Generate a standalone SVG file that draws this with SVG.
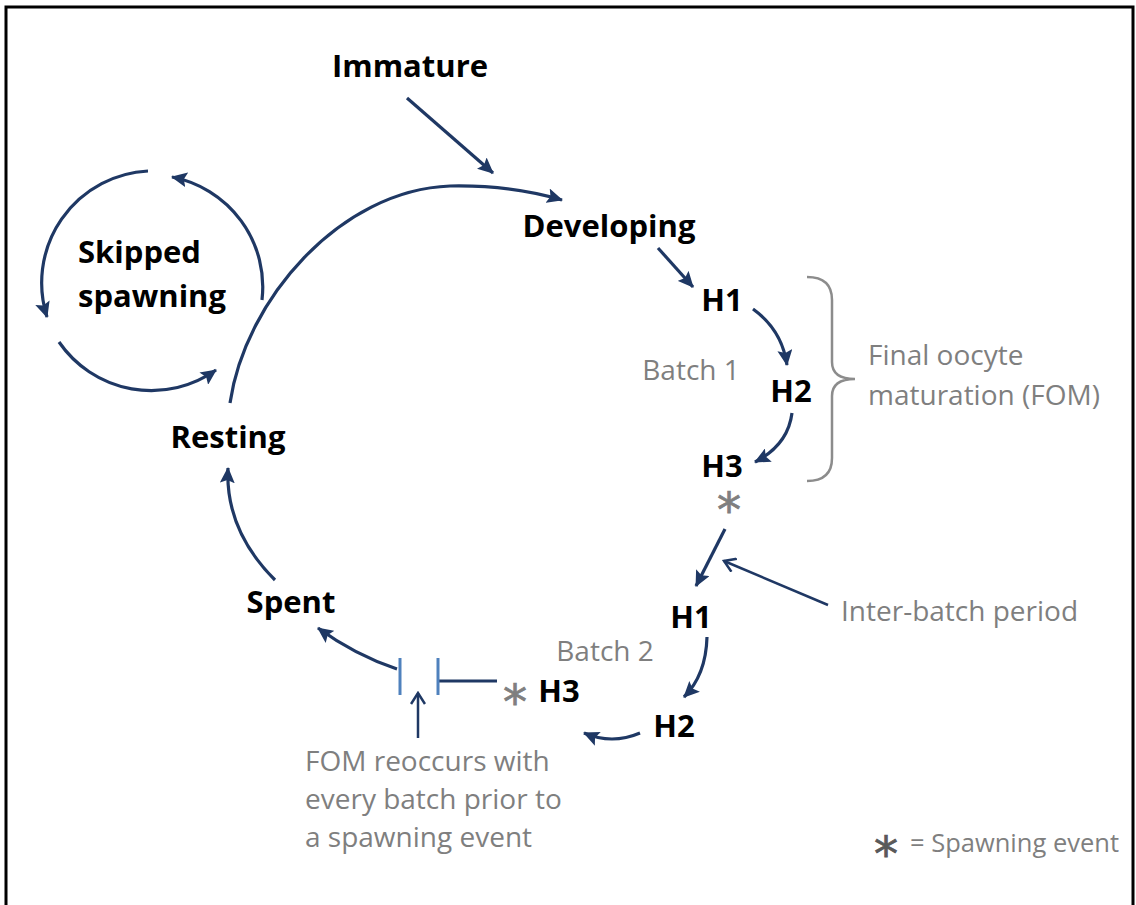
<svg xmlns="http://www.w3.org/2000/svg" width="1136" height="905" viewBox="0 0 1136 905">
<style>
.lbl{font-family:"Open Sans","Liberation Sans",sans-serif;font-weight:bold;font-size:31px;fill:#000}
.note{font-family:"Open Sans","Liberation Sans",sans-serif;font-size:28px;fill:#7f7f7f}
.ast{font-family:"DejaVu Sans",sans-serif;font-size:48px;fill:#7f7f7f;stroke:#7f7f7f;stroke-width:0.8}
.arr{fill:none;stroke:#1f3864;stroke-width:3.2;marker-end:url(#ah)}
.thin{fill:none;stroke:#1f3864;stroke-width:2.5;marker-end:url(#oh)}
.bar{stroke:#4f81bd;stroke-width:3}
</style>
<defs>
<marker id="ah" markerUnits="userSpaceOnUse" markerWidth="17" markerHeight="15" refX="15" refY="7.5" orient="auto">
<path d="M0,0 L16,7.5 L0,15 L3,7.5 z" fill="#1f3864"/>
</marker>
<marker id="oh" markerUnits="userSpaceOnUse" markerWidth="14" markerHeight="16" refX="12" refY="8" orient="auto">
<path d="M1,1 L12,8 L1,15" fill="none" stroke="#1f3864" stroke-width="2.5"/>
</marker>
</defs>
<rect width="1136" height="905" fill="#fff"/>
<path d="M6,906 L6,7 L1133,7 L1133,906" fill="none" stroke="#000" stroke-width="3"/>

<g id="connectors">
<path class="arr" d="M407,98 L493,173"/>
<path class="arr" d="M230,403 C245,300 340,190 450,186 C500,185 535,192 562,200"/>
<path class="arr" d="M658,248 L693,287"/>
<path class="arr" d="M753,309 Q782,330 787,365"/>
<path class="arr" d="M792,413 Q788,445 755,462"/>
<path class="arr" d="M725,529 L696,586"/>
<path class="arr" d="M707,637 Q706,675 684,697"/>
<path class="arr" d="M640,733 Q612,745 584,733"/>
<path class="arr" d="M397,669 Q355,655 318,628"/>
<path class="arr" d="M275,580 Q225,530 228,468"/>
<path class="arr" d="M148,171 A112,112 0 0 0 47,317"/>
<path class="arr" d="M59,342 A112,112 0 0 0 216,370"/>
<path class="arr" d="M262,300 A112,112 0 0 0 172,177"/>
<path class="thin" d="M828,605 L724,561"/>
<path class="thin" d="M418,738 L418,693"/>
<path d="M497,681 L438,681" fill="none" stroke="#1f3864" stroke-width="3"/>
<line class="bar" x1="438" y1="658" x2="438" y2="695"/>
<line class="bar" x1="400" y1="658" x2="400" y2="695"/>
<path d="M807,277 Q832,277 832,300 L832,362 Q832,379 855,379 Q832,379 832,396 L832,458 Q832,481 807,481" fill="none" stroke="#8c8c8c" stroke-width="2.5"/>
</g>

<g id="immature"><text class="lbl" x="410" y="77" text-anchor="middle">Immature</text></g>
<g id="developing"><text class="lbl" x="609" y="237" text-anchor="middle">Developing</text></g>
<g id="b1h1"><text class="lbl" x="722" y="311" text-anchor="middle">H1</text></g>
<g id="b1h2"><text class="lbl" x="791" y="402" text-anchor="middle">H2</text></g>
<g id="b1h3"><text class="lbl" x="722" y="477" text-anchor="middle">H3</text></g>
<g id="b2h1"><text class="lbl" x="691" y="628" text-anchor="middle">H1</text></g>
<g id="b2h2"><text class="lbl" x="674" y="737" text-anchor="middle">H2</text></g>
<g id="b2h3"><text class="lbl" x="559" y="702" text-anchor="middle">H3</text></g>
<g id="spent"><text class="lbl" x="291" y="613" text-anchor="middle">Spent</text></g>
<g id="resting"><text class="lbl" x="228" y="448" text-anchor="middle">Resting</text></g>
<g id="skipped"><text class="lbl" x="78" y="263">Skipped</text><text class="lbl" x="78" y="307">spawning</text></g>

<g id="batch1"><text class="note" x="691" y="380" text-anchor="middle">Batch 1</text></g>
<g id="batch2"><text class="note" x="605" y="661" text-anchor="middle">Batch 2</text></g>
<g id="fom"><text class="note" x="868" y="365">Final oocyte</text><text class="note" x="868" y="405">maturation (FOM)</text></g>
<g id="interbatch"><text class="note" x="841" y="621">Inter-batch period</text></g>
<g id="fomnote"><text class="note" x="305" y="771">FOM reoccurs with</text><text class="note" x="305" y="809">every batch prior to</text><text class="note" x="305" y="847">a spawning event</text></g>
<g id="spawn1"><text class="ast" x="729" y="527" text-anchor="middle">*</text></g>
<g id="spawn2"><text class="ast" x="515" y="719" text-anchor="middle">*</text></g>
<g id="legend"><text class="ast" x="886" y="871" text-anchor="middle" style="fill:#595959;stroke:#595959">*</text><text class="note" x="910" y="852" style="font-size:25.5px">= Spawning event</text></g>
</svg>
